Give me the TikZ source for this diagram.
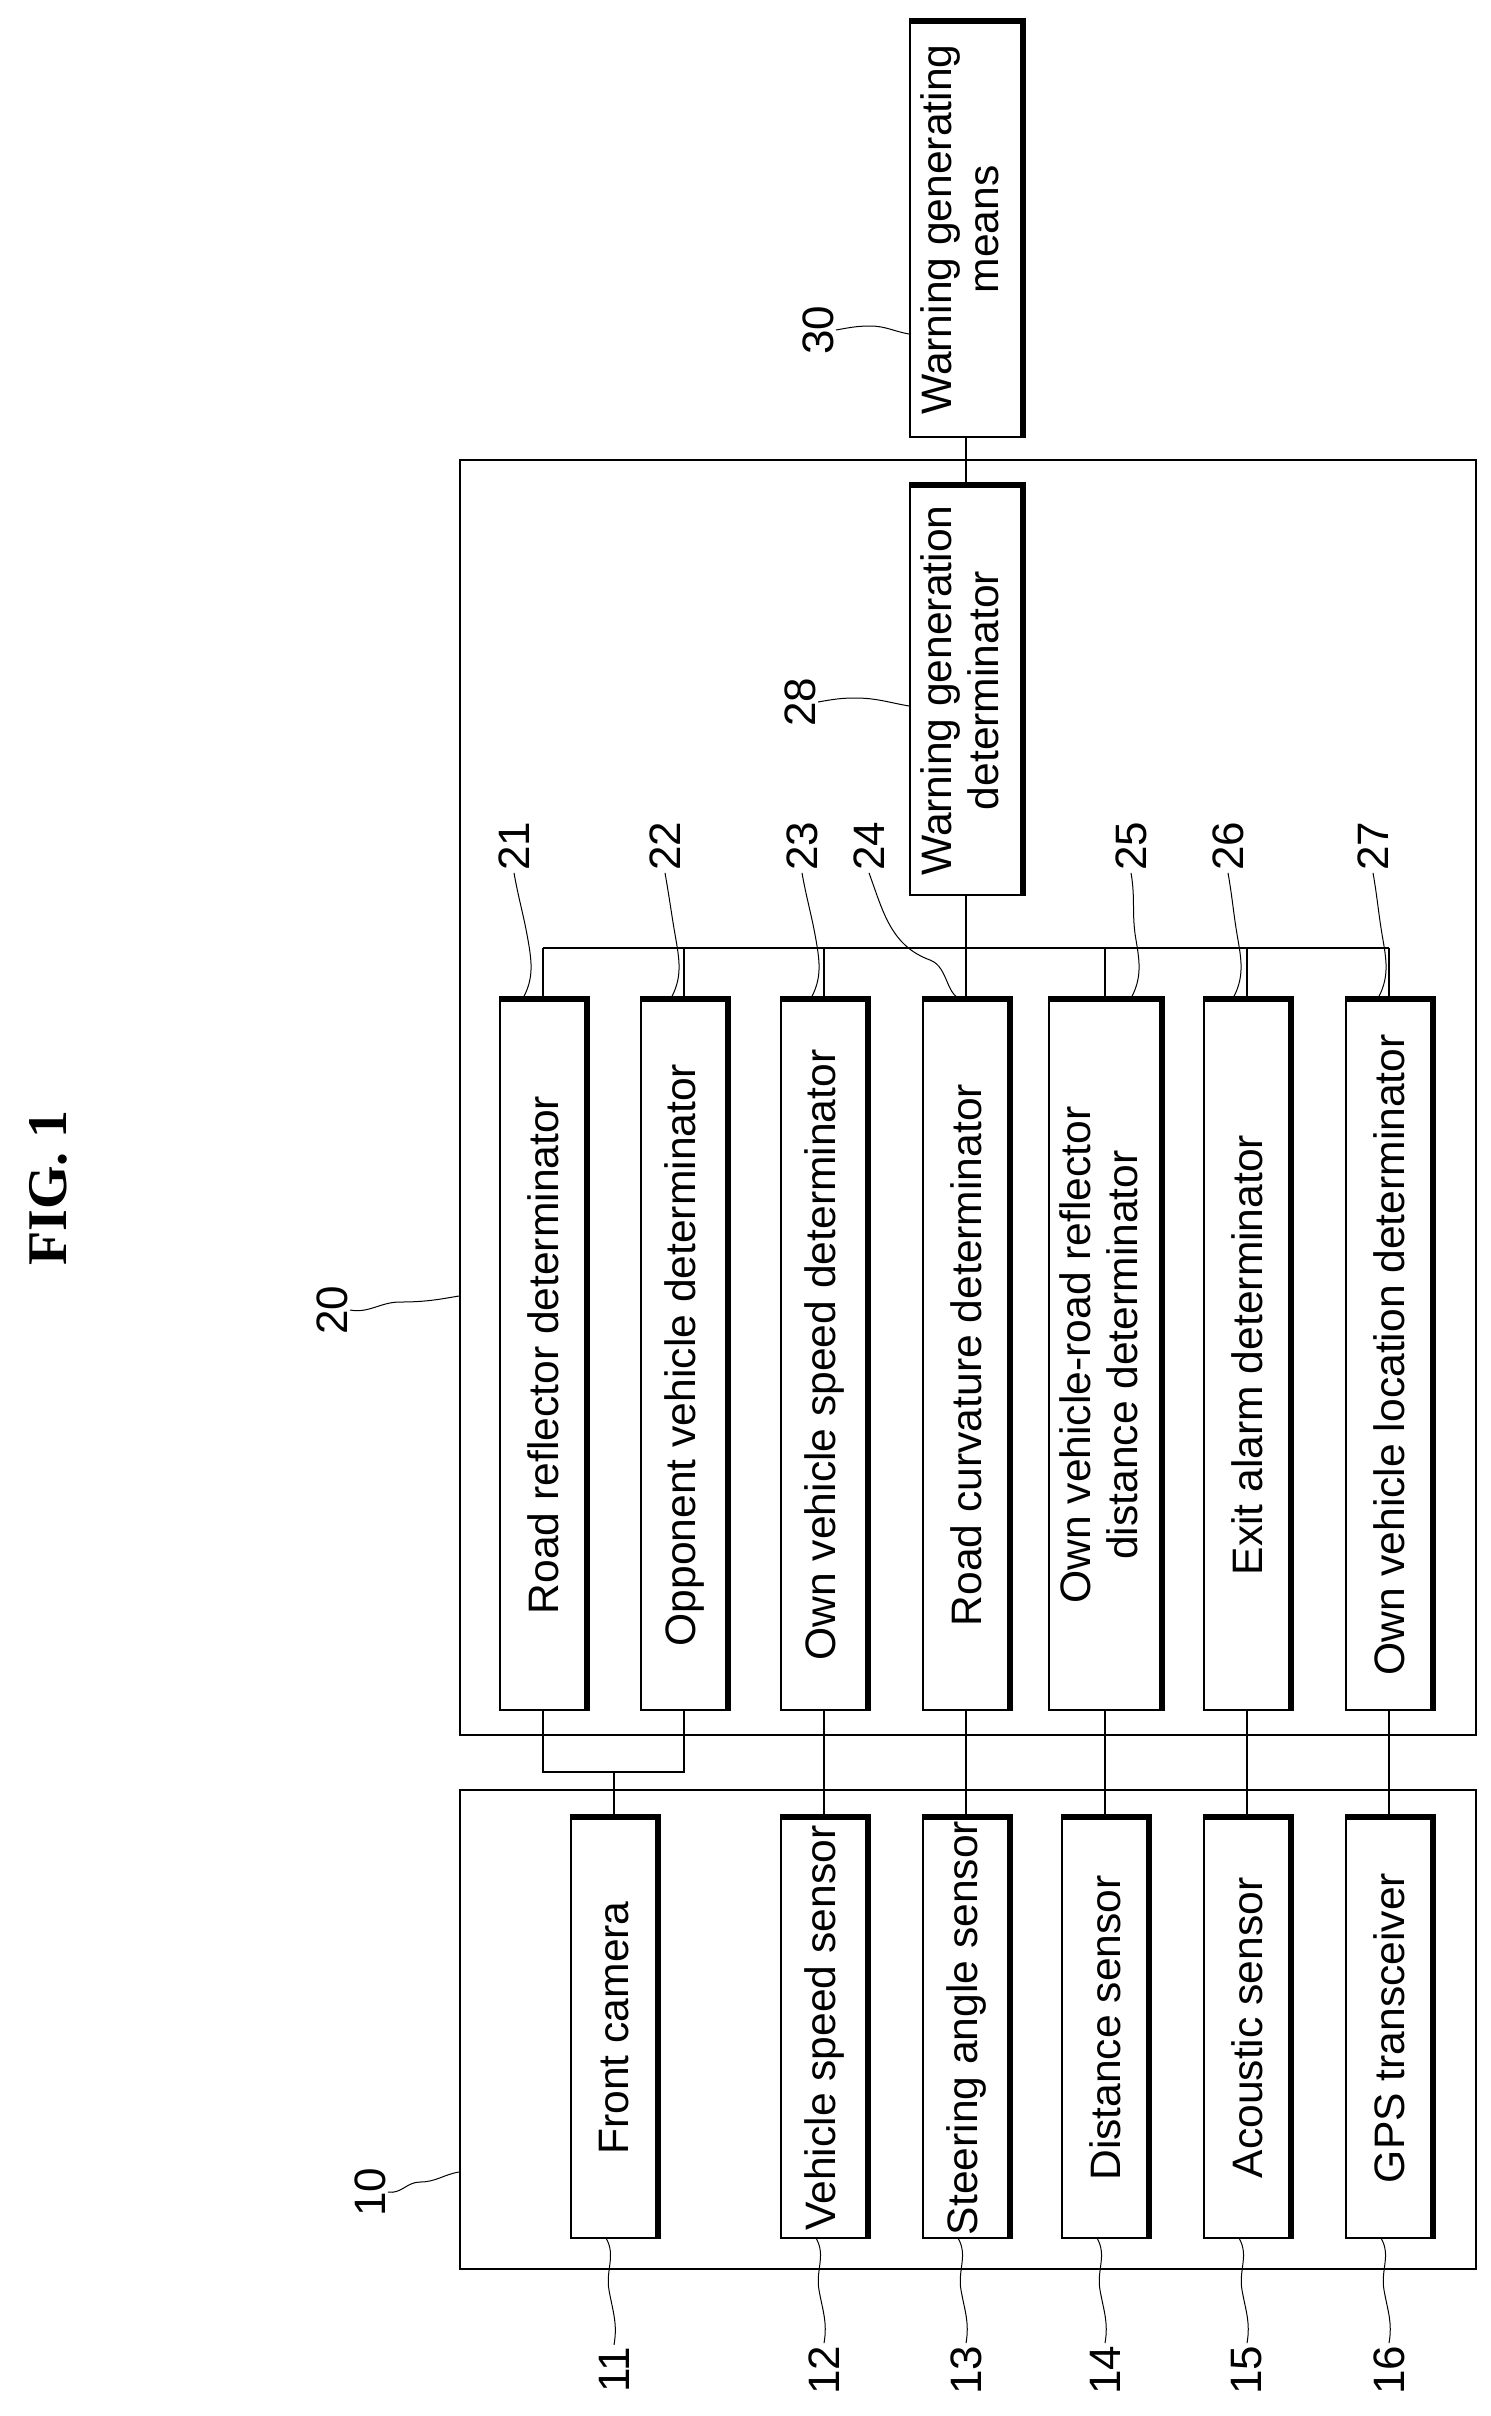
\documentclass[tikz,border=0pt]{standalone}
\usepackage{fontspec}
\setmainfont{Liberation Sans}
\newfontfamily\serifb{Liberation Serif}
\begin{document}
\begin{tikzpicture}[x=0.5pt,y=-0.5pt,
  box/.style={draw,line width=1pt,inner sep=0pt,font=\fontsize{21.3}{23.5}\selectfont,align=center},
  outer/.style={draw,line width=1.2pt},
  wire/.style={line width=1pt},
  lead/.style={line width=0.5pt},
  num/.style={font=\fontsize{22}{24}\selectfont,inner sep=1pt}]
\useasboundingbox (0,0) rectangle (1491,2416);
\newcommand{\thk}[1]{\draw[line width=3pt] (#1.north west) -- (#1.north east) -- (#1.south east);}
\newcommand{\rt}[1]{\rotatebox{90}{#1}}
% FIG label
\node[font=\serifb\bfseries\fontsize{28}{30}\selectfont] (fig) at (48,1188) {\rt{FIG. 1}};
% outer boxes
\node[outer,minimum width=508pt,minimum height=239.5pt,inner sep=0pt] (b10) at (968,2029.5) {};
\node[outer,minimum width=508pt,minimum height=637.5pt,inner sep=0pt] (b20) at (968,1097.5) {};
% sensors
\foreach \n/\x/\t in {s11/614/Front camera,s12/824/Vehicle speed sensor,s13/966/Steering angle sensor,s14/1105/Distance sensor,s15/1247/Acoustic sensor,s16/1389/GPS transceiver}{
  \node[box,minimum width=43pt,minimum height=210pt] (\n) at (\x,2028) {\rt{\t}};
  \thk{\n}
}
% determinators
\foreach \n/\x/\w/\t in {d21/543/43/Road reflector determinator,d22/684/43/Opponent vehicle determinator,d23/824/43/Own vehicle speed determinator,d24/966/43/Road curvature determinator,d25/1105/56/{\begin{tabular}{@{}c@{}}Own vehicle-road reflector\\distance determinator\end{tabular}},d26/1247/43/Exit alarm determinator,d27/1389/43/Own vehicle location determinator}{
  \node[box,minimum width=\w pt,minimum height=355pt] (\n) at (\x,1355) {\rt{\t}};
  \thk{\n}
}
\node[box,minimum width=56pt,minimum height=204.5pt] (d28) at (966,690.5) {\rt{\begin{tabular}{@{}c@{}}Warning generation\\determinator\end{tabular}}};
\thk{d28}
\node[box,minimum width=56pt,minimum height=207.5pt] (w30) at (966,229.5) {\rt{\begin{tabular}{@{}c@{}}Warning generating\\means\end{tabular}}};
\thk{w30}
% wiring
\coordinate (fj) at (614,1772);
\draw[wire] (s11.north) -- (fj);
\draw[wire] (d21.south) |- (fj) -| (d22.south);
\foreach \a/\b in {s12/d23,s13/d24,s14/d25,s15/d26,s16/d27}{\draw[wire] (\a.north) -- (\b.south);}
\coordinate (busL) at (543,948);
\coordinate (busR) at (1389,948);
\draw[wire] (busL) -- (busR);
\foreach \d in {d21,d22,d23,d24,d25,d26,d27}{\draw[wire] (\d.north) -- (\d.north |- busL);}
\draw[wire] (d28.south) -- (966,948);
\draw[wire] (w30.south) -- (d28.north);
% reference numerals
\foreach \n/\x/\s in {11/614/s11,12/824/s12,13/966/s13,14/1105/s14,15/1247/s15,16/1389/s16}{
  \node[num] (n\n) at (\x,2370) {\rt{\n}};
  \draw[lead] (\x-8,2238) to[out=-60,in=100] (\x-5,2290) to[out=-80,in=80] (n\n.north);
}
\foreach \n/\x/\tx in {21/514/520,22/665/668,23/802/808,25/1131/1128,26/1228/1230,27/1373/1375}{
  \node[num] (n\n) at (\x,846) {\rt{\n}};
  \draw[lead] (n\n.south) to[out=-80,in=100] (\tx+8,940) to[out=-80,in=60] (\tx+2,1000);
}
\node[num] (n24) at (869,846) {\rt{24}};
\draw[lead] (n24.south) to[out=-70,in=160] (930,960) to[out=-20,in=180] (966,1000);
\node[num] (n28) at (800,702) {\rt{28}};
\draw[lead] (n28.east) to[out=10,in=180] (855,698) to[out=0,in=170] (d28.west |- 0,706);
\node[num] (n30) at (818,330) {\rt{30}};
\draw[lead] (n30.east) to[out=10,in=180] (870,326) to[out=0,in=170] (w30.west |- 0,334);
\node[num] (n20) at (332,1310) {\rt{20}};
\draw[lead] (n20.east) to[out=-10,in=180] (400,1302) to[out=0,in=190] (b20.west |- 0,1296);
\node[num] (n10) at (370,2192) {\rt{10}};
\draw[lead] (n10.east) to[out=-10,in=180] (420,2182) to[out=0,in=190] (b10.west |- 0,2172);
\end{tikzpicture}
\end{document}
